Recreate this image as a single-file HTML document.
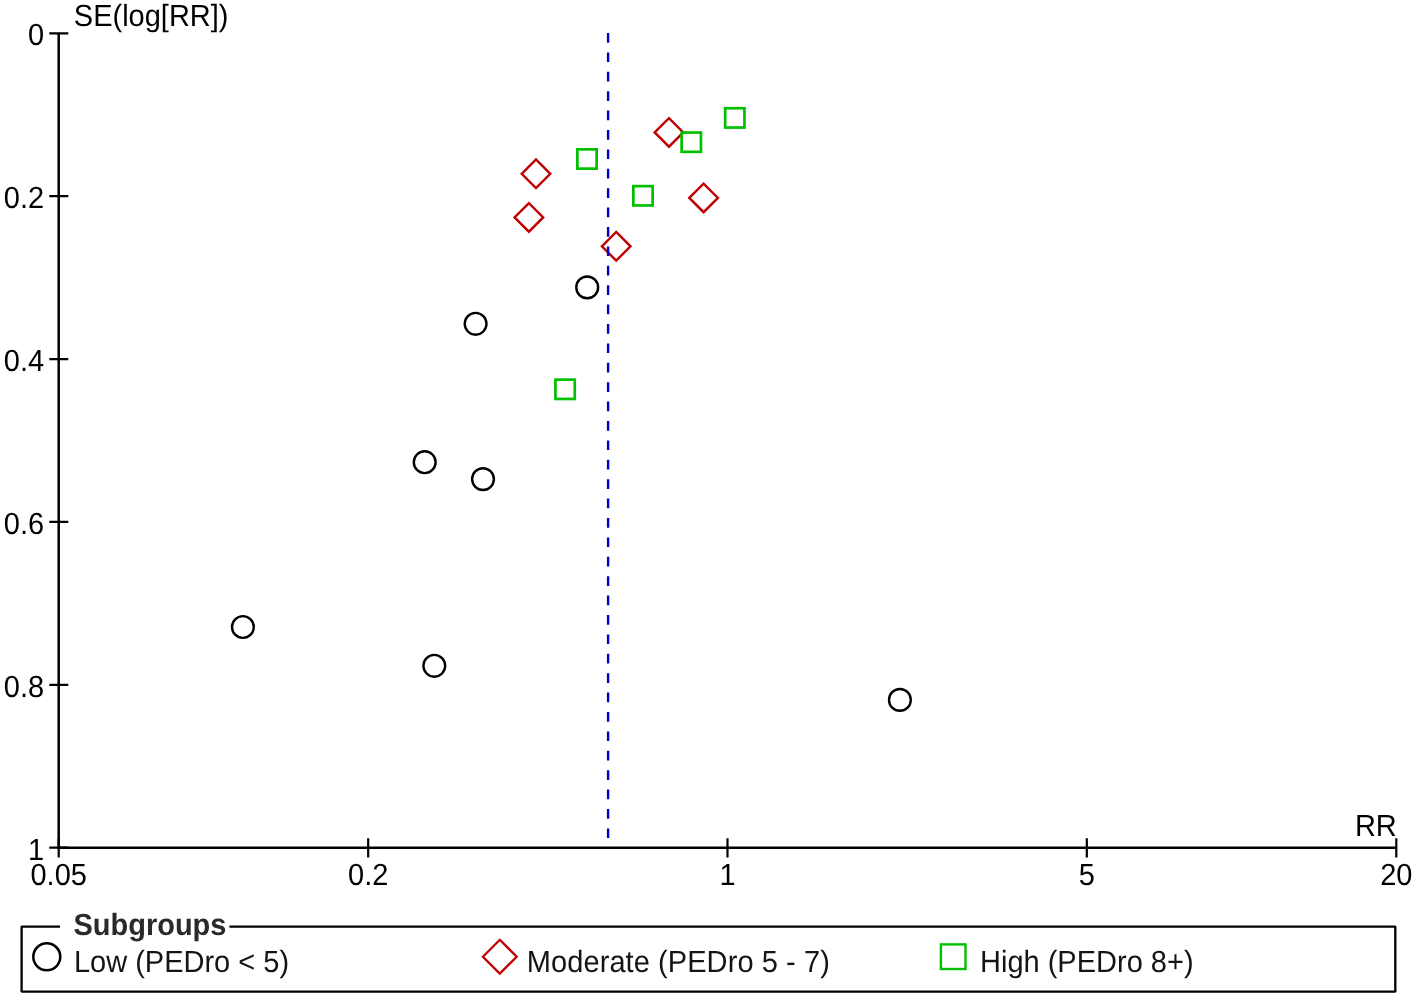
<!DOCTYPE html>
<html><head><meta charset="utf-8"><style>
html,body{margin:0;padding:0;background:#fff;width:1417px;height:999px;overflow:hidden}
svg{display:block}
.t{filter:grayscale(1);text-rendering:geometricPrecision}
text{font-family:"Liberation Sans",sans-serif}
</style></head><body>
<svg width="1417" height="999" viewBox="0 0 1417 999">
<path d="M58.7 33.3V847.7H1396.3" fill="none" stroke="#000" stroke-width="2.5" stroke-linejoin="miter"/>
<path d="M49.3 33.30H68.3M49.3 196.18H68.3M49.3 359.06H68.3M49.3 521.94H68.3M49.3 684.82H68.3M49.3 847.70H68.3M58.70 838.2V857.4M368.19 838.2V857.4M727.50 838.2V857.4M1086.81 838.2V857.4M1396.30 838.2V857.4" stroke="#000" stroke-width="2.2" fill="none"/>
<text transform="translate(44.2 45.30) scale(1 1.055)" class="t" text-anchor="end" font-family="Liberation Sans, sans-serif" font-size="29">0</text>
<text transform="translate(44.2 208.18) scale(1 1.055)" class="t" text-anchor="end" font-family="Liberation Sans, sans-serif" font-size="29">0.2</text>
<text transform="translate(44.2 371.06) scale(1 1.055)" class="t" text-anchor="end" font-family="Liberation Sans, sans-serif" font-size="29">0.4</text>
<text transform="translate(44.2 533.94) scale(1 1.055)" class="t" text-anchor="end" font-family="Liberation Sans, sans-serif" font-size="29">0.6</text>
<text transform="translate(44.2 696.82) scale(1 1.055)" class="t" text-anchor="end" font-family="Liberation Sans, sans-serif" font-size="29">0.8</text>
<text transform="translate(44.2 859.70) scale(1 1.055)" class="t" text-anchor="end" font-family="Liberation Sans, sans-serif" font-size="29">1</text>
<text transform="translate(58.70 884.6) scale(1 1.055)" class="t" text-anchor="middle" font-family="Liberation Sans, sans-serif" font-size="29">0.05</text>
<text transform="translate(368.19 884.6) scale(1 1.055)" class="t" text-anchor="middle" font-family="Liberation Sans, sans-serif" font-size="29">0.2</text>
<text transform="translate(727.50 884.6) scale(1 1.055)" class="t" text-anchor="middle" font-family="Liberation Sans, sans-serif" font-size="29">1</text>
<text transform="translate(1086.81 884.6) scale(1 1.055)" class="t" text-anchor="middle" font-family="Liberation Sans, sans-serif" font-size="29">5</text>
<text transform="translate(1396.30 884.6) scale(1 1.055)" class="t" text-anchor="middle" font-family="Liberation Sans, sans-serif" font-size="29">20</text>
<text transform="translate(73.8 25.6) scale(1 1.055)" class="t" font-family="Liberation Sans, sans-serif" font-size="29">SE(log[RR])</text>
<text transform="translate(1396.8 835.6) scale(1 1.055)" class="t" text-anchor="end" font-family="Liberation Sans, sans-serif" font-size="29">RR</text>
<circle cx="587.2" cy="287.4" r="10.9" fill="none" stroke="#000" stroke-width="2.4"/>
<circle cx="475.6" cy="323.8" r="10.9" fill="none" stroke="#000" stroke-width="2.4"/>
<circle cx="424.7" cy="462.2" r="10.9" fill="none" stroke="#000" stroke-width="2.4"/>
<circle cx="483" cy="479.1" r="10.9" fill="none" stroke="#000" stroke-width="2.4"/>
<circle cx="242.9" cy="627" r="10.9" fill="none" stroke="#000" stroke-width="2.4"/>
<circle cx="434.3" cy="665.8" r="10.9" fill="none" stroke="#000" stroke-width="2.4"/>
<circle cx="899.9" cy="699.9" r="10.9" fill="none" stroke="#000" stroke-width="2.4"/>
<path d="M654.70 132.4L669 118.10L683.30 132.4L669 146.70Z" fill="none" stroke="#c00000" stroke-width="2.4"/>
<path d="M521.70 173.8L536 159.50L550.30 173.8L536 188.10Z" fill="none" stroke="#c00000" stroke-width="2.4"/>
<path d="M514.60 217.4L528.9 203.10L543.20 217.4L528.9 231.70Z" fill="none" stroke="#c00000" stroke-width="2.4"/>
<path d="M689.30 197.9L703.6 183.60L717.90 197.9L703.6 212.20Z" fill="none" stroke="#c00000" stroke-width="2.4"/>
<path d="M601.90 246.3L616.2 232.00L630.50 246.3L616.2 260.60Z" fill="none" stroke="#c00000" stroke-width="2.4"/>
<rect x="725.15" y="108.25" width="19.3" height="19.3" fill="none" stroke="#00c000" stroke-width="2.7"/>
<rect x="681.65" y="132.55" width="19.3" height="19.3" fill="none" stroke="#00c000" stroke-width="2.7"/>
<rect x="577.35" y="149.35" width="19.3" height="19.3" fill="none" stroke="#00c000" stroke-width="2.7"/>
<rect x="633.35" y="186.15" width="19.3" height="19.3" fill="none" stroke="#00c000" stroke-width="2.7"/>
<rect x="555.45" y="379.65" width="19.3" height="19.3" fill="none" stroke="#00c000" stroke-width="2.7"/>
<path d="M608.1 33V847" stroke="#0000cc" stroke-width="2.4" stroke-dasharray="9.7 9.7" fill="none"/>
<path d="M60 926.6H21.6V991.7H1395.3V926.6H229.4" fill="none" stroke="#000" stroke-width="2.3" stroke-linejoin="bevel"/>
<text transform="translate(73.4 934.5) scale(1 1.055)" class="t" font-family="Liberation Sans, sans-serif" font-size="29" font-weight="bold" fill="#2a2a2a">Subgroups</text>
<circle cx="46.8" cy="956.8" r="13.5" fill="none" stroke="#000" stroke-width="2.5"/>
<text transform="translate(73.9 971.7) scale(1 1.055)" class="t" font-family="Liberation Sans, sans-serif" font-size="29" fill="#141414">Low (PEDro &lt; 5)</text>
<path d="M482.90 956.7L499.8 939.80L516.70 956.7L499.8 973.60Z" fill="none" stroke="#c00000" stroke-width="2.3"/>
<text transform="translate(526.8 971.7) scale(1 1.055)" class="t" font-family="Liberation Sans, sans-serif" font-size="29" fill="#141414" textLength="303" lengthAdjust="spacing">Moderate (PEDro 5 - 7)</text>
<rect x="940.90" y="944.40" width="24.6" height="24.6" fill="none" stroke="#00c000" stroke-width="2.4"/>
<text transform="translate(980 971.7) scale(1 1.055)" class="t" font-family="Liberation Sans, sans-serif" font-size="29" fill="#141414">High (PEDro 8+)</text>
</svg>
</body></html>
